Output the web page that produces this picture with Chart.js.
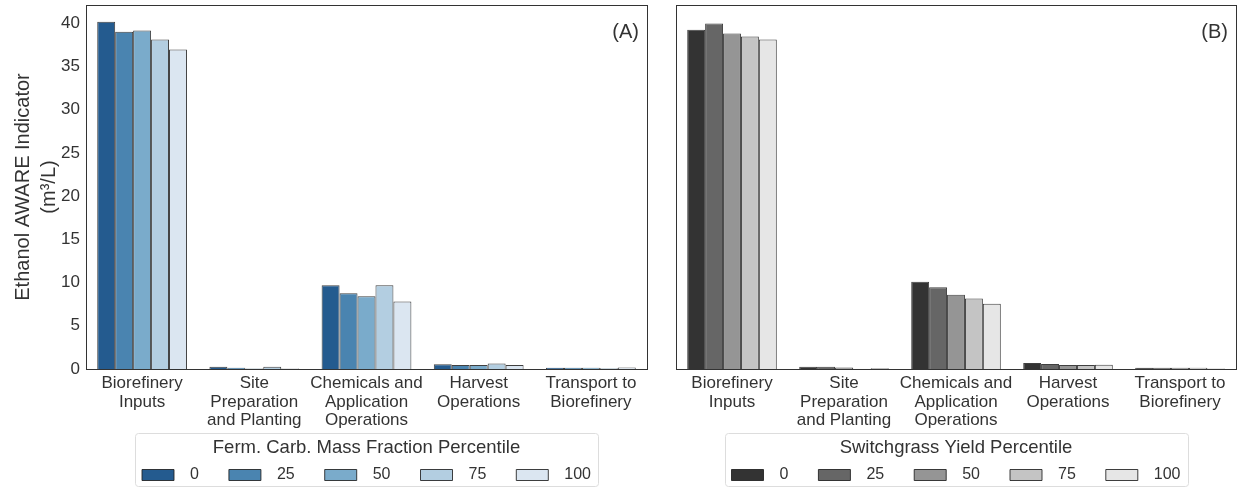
<!DOCTYPE html>
<html>
<head>
<meta charset="utf-8">
<script src="https://cdn.jsdelivr.net/npm/chart.js@4.4.1/dist/chart.umd.min.js"></script>
<style>
  html, body { margin: 0; padding: 0; background: #fff; }
  #wrap { position: relative; width: 1241px; height: 488px; }
  .panel { position: absolute; top: 0; height: 488px; }
  #panelA { left: 0; width: 660px; }
  #panelB { left: 660px; width: 581px; }
</style>
</head>
<body>
<div id="wrap">
  <div class="panel" id="panelA"><canvas id="chartA"></canvas></div>
  <div class="panel" id="panelB"><canvas id="chartB"></canvas></div>
</div>
<script>
// Catégories (étiquettes sur plusieurs lignes)
const categories = [
    ['Biorefinery', 'Inputs'],
    ['Site', 'Preparation', 'and Planting'],
    ['Chemicals and', 'Application', 'Operations'],
    ['Harvest', 'Operations'],
    ['Transport to', 'Biorefinery']
];
const percentiles = ['0', '25', '50', '75', '100'];
const yTicks = [0, 5, 10, 15, 20, 25, 30, 35, 40];
const yMax = 42.1;

// (A) Ferm. Carb. Mass Fraction Percentile
const fermP0 = [40.15, 0.27, 9.7, 0.55, 0.15];
const fermP25 = [39.0, 0.15, 8.75, 0.45, 0.15];
const fermP50 = [39.15, 0.05, 8.4, 0.45, 0.15];
const fermP75 = [38.1, 0.27, 9.7, 0.65, 0.1];
const fermP100 = [36.95, 0.05, 7.8, 0.45, 0.18];

// (B) Switchgrass Yield Percentile
const yieldP0 = [39.25, 0.27, 10.1, 0.69, 0.15];
const yieldP25 = [39.95, 0.25, 9.45, 0.58, 0.15];
const yieldP50 = [38.8, 0.18, 8.6, 0.46, 0.15];
const yieldP75 = [38.45, 0.03, 8.15, 0.46, 0.15];
const yieldP100 = [38.1, 0.08, 7.55, 0.5, 0.05];

const bluePalette = ['#245b8f', '#4a84b0', '#7aabcb', '#b3cee1', '#dbe6f1'];
const greyPalette = ['#333333', '#666666', '#959595', '#c4c4c4', '#e6e6e6'];

const FONT = "'Liberation Sans', Arial, sans-serif";
const TEXT_COLOR = '#333333';

function buildDatasets(seriesList, palette) {
    return seriesList.map((values, i) => ({
        label: percentiles[i],
        data: values,
        backgroundColor: palette[i],
        borderColor: 'rgba(30, 30, 30, 0.85)',
        borderWidth: 1,
        borderSkipped: 'bottom',
        barPercentage: 1.0,
        categoryPercentage: 0.8
    }));
}

// Cadre complet + étiquette du panneau
const framePlugin = {
    id: 'frame',
    afterDatasetsDraw(chart, args, opts) {
        const { ctx, chartArea: a } = chart;
        ctx.save();
        ctx.strokeStyle = '#333333';
        ctx.lineWidth = 1;
        ctx.strokeRect(Math.round(a.left) + 0.5, Math.round(a.top) + 0.5,
            Math.round(a.right - a.left), Math.round(a.bottom - a.top));
        ctx.fillStyle = TEXT_COLOR;
        ctx.font = '20px ' + FONT;
        ctx.textAlign = 'right';
        ctx.textBaseline = 'middle';
        ctx.fillText(opts.label, a.right - 8, a.top + 27);
        ctx.restore();
    }
};

// Bordure arrondie autour de la légende
const legendBoxPlugin = {
    id: 'legendBox',
    afterDraw(chart) {
        const lg = chart.legend;
        if (!lg || !lg.legendHitBoxes || !lg.legendHitBoxes.length) return;
        const boxes = lg.legendHitBoxes;
        const left = Math.min(...boxes.map(b => b.left)) - 7;
        const right = Math.max(...boxes.map(b => b.left + b.width)) + 7;
        const top = lg.top;
        const bottom = lg.bottom - 1;
        const ctx = chart.ctx;
        ctx.save();
        ctx.strokeStyle = '#dddddd';
        ctx.lineWidth = 1;
        ctx.beginPath();
        ctx.roundRect(Math.round(left) + 0.5, Math.round(top) + 0.5,
            Math.round(right - left), Math.round(bottom - top), 3);
        ctx.stroke();
        ctx.restore();
    }
};

function makeChart(canvasId, datasets, panelLabel, legendTitle, showY) {
    const ctx = document.getElementById(canvasId).getContext('2d');
    return new Chart(ctx, {
        type: 'bar',
        data: { labels: categories, datasets: datasets },
        options: {
            responsive: true,
            maintainAspectRatio: false,
            animation: false,
            layout: { padding: { top: 5, right: showY ? 13 : 5, left: showY ? 10 : 16, bottom: 1 } },
            scales: {
                x: {
                    grid: { display: false, drawTicks: false },
                    border: { display: false },
                    ticks: {
                        color: TEXT_COLOR,
                        font: { family: FONT, size: 17, lineHeight: 1.1 },
                        maxRotation: 0,
                        autoSkip: false,
                        padding: 5
                    },
                    afterFit: s => {
                        s.height = 64;
                        s.paddingLeft = 0;
                        s.paddingRight = 0;
                    }
                },
                y: {
                    min: 0,
                    max: yMax,
                    grid: { display: false, drawTicks: false },
                    border: { display: false },
                    afterBuildTicks: s => { s.ticks = yTicks.map(v => ({ value: v })); },
                    ticks: {
                        display: showY,
                        color: TEXT_COLOR,
                        font: { family: FONT, size: 17 },
                        padding: 6
                    },
                    title: {
                        display: showY,
                        text: ['Ethanol AWARE Indicator', '(m\u00b3/L)'],
                        color: TEXT_COLOR,
                        font: { family: FONT, size: 20, lineHeight: 1.3 },
                        padding: 0
                    },
                    afterFit: s => {
                        s.width = showY ? 76 : 0;
                        s.paddingTop = 0;
                        s.paddingBottom = 0;
                    }
                }
            },
            plugins: {
                legend: {
                    position: 'bottom',
                    fullSize: false,
                    maxHeight: 54,
                    title: {
                        display: true,
                        text: legendTitle,
                        color: TEXT_COLOR,
                        font: { family: FONT, size: 18.5 },
                        padding: { top: 6, bottom: -24.2 }
                    },
                    labels: {
                        color: TEXT_COLOR,
                        font: { family: FONT, size: 16 },
                        boxWidth: 32,
                        boxHeight: 11,
                        padding: 30,
                        generateLabels: chart =>
                            Chart.defaults.plugins.legend.labels.generateLabels(chart)
                                .map(item => Object.assign(item, { text: '\u2002' + item.text }))
                    }
                },
                tooltip: { enabled: false },
                frame: { label: panelLabel }
            }
        },
        plugins: [framePlugin, legendBoxPlugin]
    });
}

makeChart('chartA',
    buildDatasets([fermP0, fermP25, fermP50, fermP75, fermP100], bluePalette),
    '(A)', 'Ferm. Carb. Mass Fraction Percentile', true);
makeChart('chartB',
    buildDatasets([yieldP0, yieldP25, yieldP50, yieldP75, yieldP100], greyPalette),
    '(B)', 'Switchgrass Yield Percentile', false);
</script>
</body>
</html>
